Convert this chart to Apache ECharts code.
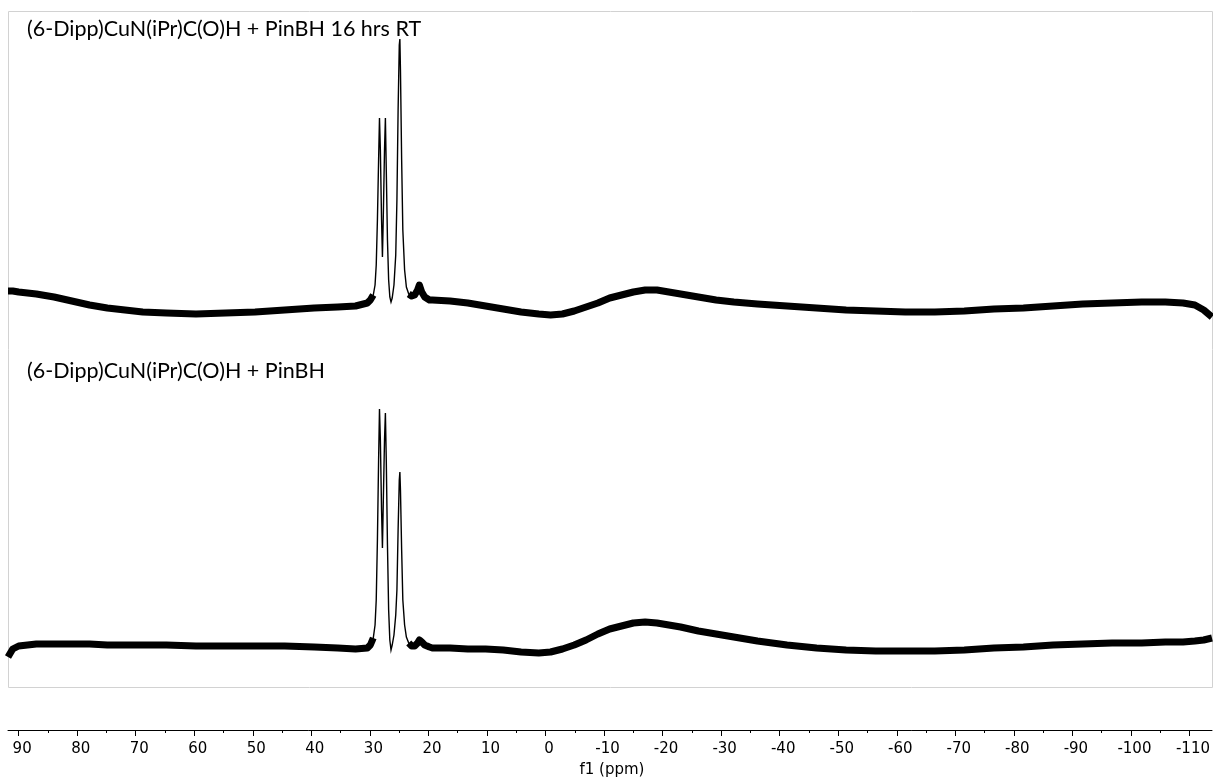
<!DOCTYPE html>
<html>
<head>
<meta charset="utf-8">
<script src="https://cdn.jsdelivr.net/npm/echarts@6/dist/echarts.min.js"></script>
<style>
  html, body { margin: 0; padding: 0; background: #fff; }
  #chart { width: 1213px; height: 778px; }
</style>
</head>
<body>
<div id="chart"></div>
<script>
// 11B NMR, two stacked spectra on a shared chemical-shift axis (ppm, reversed).
const traceTitles = [
  '(6-Dipp)CuN(iPr)C(O)H + PinBH 16 hrs RT',
  '(6-Dipp)CuN(iPr)C(O)H + PinBH'
];

// Baseline nodes (ppm) shared by both traces, outside the 31–20 ppm peak window.
const baselinePpm = [91.8, 91, 90, 87, 84, 81, 78, 75, 72, 69, 65, 60, 55, 50, 45, 40, 36, 33, 31,
  20, 17, 14, 11, 8, 5, 2, 0, -2, -4, -6, -8, -10, -12, -14, -16, -18, -20, -22, -25, -28, -31,
  -35, -40, -45, -50, -55, -60, -65, -70, -75, -80, -85, -90, -95, -100, -104, -107, -109, -110.5, -111.9];

// Intensities (a.u.) of the baseline for each trace.
const topBaseline = [58, 58, 57, 55, 52, 48, 44, 41, 39, 37, 36, 35, 36, 37, 39, 41, 42, 43, 46,
  49, 48, 46, 43, 40, 37, 35, 34, 35, 38, 42, 46, 51, 54, 57, 59, 59, 57, 55, 52, 49, 47,
  45, 43, 41, 39, 38, 37, 37, 38, 40, 41, 43, 45, 46, 47, 47, 46, 44, 39, 32];
const bottomBaseline = [30, 38, 41, 43, 43, 43, 43, 42, 42, 42, 42, 41, 41, 41, 41, 40, 39, 38, 39,
  39, 39, 38, 38, 37, 35, 34, 35, 38, 42, 47, 53, 58, 61, 64, 65, 64, 62, 60, 56, 53, 50,
  46, 42, 39, 37, 36, 36, 36, 37, 39, 40, 42, 43, 44, 44, 45, 45, 46, 47, 49];

// Peak window: three resonances near 28.9, 27.9 and 25.5 ppm plus a small shoulder at 22 ppm.
const peakPpm = [30.5, 30.0, 29.7, 29.5, 29.3, 29.1, 28.95, 28.8, 28.6, 28.45, 28.3, 28.1, 27.95,
  27.8, 27.6, 27.4, 27.2, 27.0, 26.8, 26.5, 26.2, 26.0, 25.8, 25.6, 25.5, 25.4, 25.2, 25.0,
  24.7, 24.4, 24.0, 23.5, 23.0, 22.5, 22.2, 21.8, 21.3, 20.5];
const topPeaks = [49, 54, 64, 84, 129, 189, 231, 199, 129, 92, 134, 199, 231,
  179, 109, 69, 52, 47, 51, 64, 94, 149, 239, 304, 310, 279, 189, 119,
  79, 62, 55, 53, 54, 59, 64, 57, 52, 49];
const bottomPeaks = [42, 49, 62, 87, 147, 227, 278, 247, 177, 139, 187, 247, 274,
  227, 142, 77, 47, 37, 42, 52, 72, 97, 157, 207, 215, 197, 137, 87,
  62, 50, 44, 41, 41, 44, 47, 45, 42, 40];

// Visible spectrum window and the labelled tick range (major every 10 ppm, minor every 5 ppm).
const PPM_MIN = -111.9, PPM_MAX = 91.8;
const TICK_MIN = -110, TICK_MAX = 90, TICK_STEP = 10;

// Plot frame geometry in pixels; the tick grid covers the labelled range at the same px/ppm.
const PLOT_LEFT = 8, PLOT_WIDTH = 1204;
const pxPerPpm = PLOT_WIDTH / (PPM_MAX - PPM_MIN);
const tickLeft = PLOT_LEFT + (PPM_MAX - TICK_MAX) * pxPerPpm;
const tickWidth = (TICK_MAX - TICK_MIN) * pxPerPpm;

function merged(ppm, vals, pPpm, pVals) {
  const pts = ppm.map((p, i) => [p, vals[i]]).concat(pPpm.map((p, i) => [p, pVals[i]]));
  pts.sort((a, b) => b[0] - a[0]);
  return pts;
}

function traceSeries(idx, base, peaks) {
  const all = merged(baselinePpm, base, peakPpm, peaks);
  const left = all.filter(d => d[0] >= 29.8);
  const right = all.filter(d => d[0] <= 24.2);
  const mid = all.filter(d => d[0] <= 31 && d[0] >= 20);
  const common = { type: 'line', xAxisIndex: idx, yAxisIndex: idx, showSymbol: false, symbol: 'none',
    animation: false, silent: true, clip: false };
  const band = { color: '#000', width: 7, cap: 'butt', join: 'round' };
  return [
    Object.assign({}, common, { data: left, lineStyle: band }),
    Object.assign({}, common, { data: right, lineStyle: band }),
    Object.assign({}, common, { data: mid, lineStyle: { color: '#000', width: 1.4, join: 'miter' } })
  ];
}

const hiddenX = (g) => ({ type: 'value', gridIndex: g, inverse: true, min: PPM_MIN, max: PPM_MAX, show: false });
const hiddenY = (g, max) => ({ type: 'value', gridIndex: g, min: 0, max: max, show: false });

const chart = echarts.init(document.getElementById('chart'), null, { renderer: 'canvas' });
chart.setOption({
  animation: false,
  backgroundColor: '#fff',
  grid: [
    { left: PLOT_LEFT, top: 11, width: PLOT_WIDTH, height: 338 },
    { left: PLOT_LEFT, top: 349, width: PLOT_WIDTH, height: 338 },
    // axis line only, over the visible window
    { left: PLOT_LEFT, top: 729, width: PLOT_WIDTH, height: 1 },
    // ticks and labels over the round-number range
    { left: tickLeft, top: 729, width: tickWidth, height: 1 }
  ],
  xAxis: [
    hiddenX(0),
    hiddenX(1),
    {
      type: 'value', gridIndex: 2, inverse: true, min: PPM_MIN, max: PPM_MAX, position: 'bottom',
      axisLine: { show: true, lineStyle: { color: '#000', width: 1 } },
      axisTick: { show: false }, axisLabel: { show: false }, splitLine: { show: false }
    },
    {
      type: 'value', gridIndex: 3, inverse: true, min: TICK_MIN, max: TICK_MAX, interval: TICK_STEP,
      position: 'bottom',
      axisLine: { show: false },
      axisTick: { show: true, inside: false, length: 6, lineStyle: { color: '#000', width: 1 } },
      minorTick: { show: true, splitNumber: 2, length: 3, lineStyle: { color: '#000', width: 1 } },
      axisLabel: {
        show: true, margin: 12, color: '#000',
        fontFamily: 'DejaVu Sans', fontSize: 15, padding: [0, 0, 0, 7],
        formatter: v => String(v)
      },
      splitLine: { show: false }
    }
  ],
  yAxis: [hiddenY(0, 338), hiddenY(1, 338), hiddenY(2, 1), hiddenY(3, 1)],
  series: [].concat(traceSeries(0, topBaseline, topPeaks), traceSeries(1, bottomBaseline, bottomPeaks)),
  graphic: [
    { type: 'rect', shape: { x: 8.5, y: 11.5, width: 1204, height: 676 },
      style: { fill: 'none', stroke: '#d2d2d2', lineWidth: 1 }, z: -1, silent: true },
    { type: 'text', left: 27, top: 18, silent: true,
      style: { text: traceTitles[0], fontFamily: 'Lato', fontSize: 21.5, fill: '#000' } },
    { type: 'text', left: 27, top: 360, silent: true,
      style: { text: traceTitles[1], fontFamily: 'Lato', fontSize: 21.5, fill: '#000' } },
    { type: 'text', x: 612, y: 770, silent: true,
      style: { text: 'f1 (ppm)', fontFamily: 'DejaVu Sans', fontSize: 15, fill: '#000', align: 'center', verticalAlign: 'middle' } }
  ]
});
</script>
</body>
</html>
